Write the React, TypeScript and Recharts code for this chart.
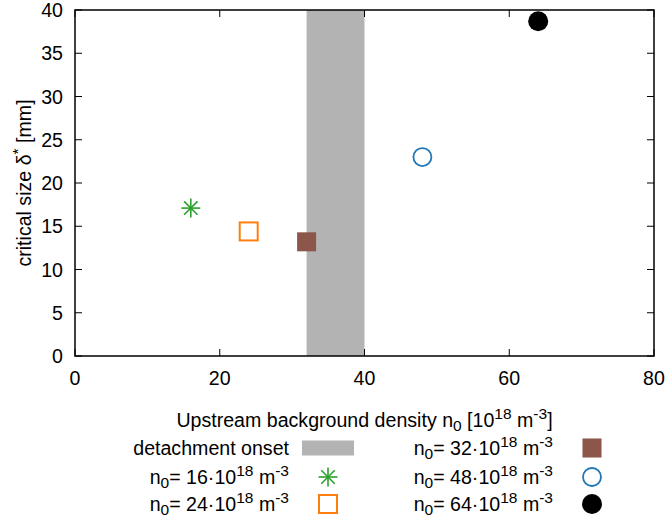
import React from "react"
import { ScatterChart, Scatter, XAxis, YAxis, ReferenceArea } from "recharts"

// values
const DENSITY = [16, 24, 32, 48, 64]
const CRITICAL_SIZE = [17.1, 14.4, 13.2, 23.0, 38.7]
const DENSITY_LABELS = ["16", "24", "32", "48", "64"]
const MARKER_COLORS = ["#2ca02c", "#ff7f0e", "#8c564b", "#1f77b4", "#000000"]
const MARKER_TYPES = ["asterisk", "openSquare", "filledSquare", "openCircle", "filledCircle"]
const ONSET_RANGE = [32, 40]
const X_TICKS = [0, 20, 40, 60, 80]
const Y_TICKS = [0, 5, 10, 15, 20, 25, 30, 35, 40]

const W = 665
const H = 522
const MARGIN = { top: 10, right: 11, bottom: 106, left: 0 }
const Y_AXIS_W = 75
const X_AXIS_H = 60
const PLOT_LEFT = MARGIN.left + Y_AXIS_W
const PLOT_TOP = MARGIN.top
const PLOT_RIGHT = W - MARGIN.right
const PLOT_BOTTOM = H - MARGIN.bottom - X_AXIS_H
const FONT = '"Liberation Sans", Arial, Helvetica, sans-serif'
const FS = 19.6
const SUB_FS = 15.5
const TICK_LEN = 7
const BAND_COLOR = "#b3b3b3"

function Marker({ type, color, cx, cy }: any) {
  if (type === "asterisk") {
    const r = 9.5
    const d = r * 0.7071
    return (
      <g stroke={color} strokeWidth={1.6}>
        <line x1={cx - r} y1={cy} x2={cx + r} y2={cy} />
        <line x1={cx} y1={cy - r} x2={cx} y2={cy + r} />
        <line x1={cx - d} y1={cy - d} x2={cx + d} y2={cy + d} />
        <line x1={cx - d} y1={cy + d} x2={cx + d} y2={cy - d} />
      </g>
    )
  }
  if (type === "openSquare") {
    return <rect x={cx - 9} y={cy - 9} width={18} height={18} fill="none" stroke={color} strokeWidth={2} />
  }
  if (type === "filledSquare") {
    return <rect x={cx - 9.5} y={cy - 9.5} width={19} height={19} fill={color} />
  }
  if (type === "openCircle") {
    return <circle cx={cx} cy={cy} r={9} fill="none" stroke={color} strokeWidth={1.8} />
  }
  return <circle cx={cx} cy={cy} r={10} fill={color} />
}

const XTick = ({ x, payload }: any) => (
  <g>
    <line x1={x} x2={x} y1={PLOT_BOTTOM} y2={PLOT_BOTTOM - TICK_LEN} stroke="#000" />
    <line x1={x} x2={x} y1={PLOT_TOP} y2={PLOT_TOP + TICK_LEN} stroke="#000" />
    <text x={x} y={PLOT_BOTTOM + 29} textAnchor="middle" fontSize={FS} fontFamily={FONT} fill="#000">
      {payload.value}
    </text>
  </g>
)

const YTick = ({ y, payload }: any) => (
  <g>
    <line x1={PLOT_LEFT} x2={PLOT_LEFT + TICK_LEN} y1={y} y2={y} stroke="#000" />
    <line x1={PLOT_RIGHT} x2={PLOT_RIGHT - TICK_LEN} y1={y} y2={y} stroke="#000" />
    <text x={PLOT_LEFT - 12} y={y + 7} textAnchor="end" fontSize={FS} fontFamily={FONT} fill="#000">
      {payload.value}
    </text>
  </g>
)

const XTitle = ({ viewBox }: any) => {
  const cx = viewBox.x + viewBox.width / 2
  return (
    <text x={cx} y={427} textAnchor="middle" fontSize={FS} fontFamily={FONT} fill="#000">
      Upstream background density n<tspan fontSize={SUB_FS} dy={4}>0</tspan>
      <tspan dy={-4}> [10</tspan>
      <tspan fontSize={SUB_FS} dy={-8}>18</tspan>
      <tspan dy={8}> m</tspan>
      <tspan fontSize={SUB_FS} dy={-8}>-3</tspan>
      <tspan dy={8}>]</tspan>
    </text>
  )
}

const YTitle = ({ viewBox }: any) => {
  const cy = viewBox.y + viewBox.height / 2
  const x = 31
  return (
    <text x={x} y={cy} transform={`rotate(-90, ${x}, ${cy})`} textAnchor="middle" fontSize={FS} fontFamily={FONT} fill="#000">
      critical size δ<tspan fontSize={SUB_FS} dy={-8}>*</tspan>
      <tspan dy={8}> [mm]</tspan>
    </text>
  )
}

const DensityText = ({ x, y, value }: any) => (
  <text x={x} y={y} textAnchor="end" fontSize={FS} fontFamily={FONT} fill="#000">
    n<tspan fontSize={SUB_FS} dy={4}>0</tspan>
    <tspan dy={-4}>= {value}·10</tspan>
    <tspan fontSize={SUB_FS} dy={-8}>18</tspan>
    <tspan dy={8}> m</tspan>
    <tspan fontSize={SUB_FS} dy={-8}>-3</tspan>
  </text>
)

// legend layout: two columns of three rows
const LEGEND_TEXT_X = [289, 553]
const LEGEND_SYMBOL_X = [328, 592]
const LEGEND_BASELINE = [455, 484, 511]

function LegendBlock() {
  const items = [-1, ...DENSITY.map((_, i) => i)]
  return (
    <g>
      {items.map((s, idx) => {
        const col = idx < 3 ? 0 : 1
        const row = idx % 3
        const ty = LEGEND_BASELINE[row]
        const sx = LEGEND_SYMBOL_X[col]
        const sy = ty - 7
        if (s < 0) {
          return (
            <g key="onset">
              <text x={LEGEND_TEXT_X[col]} y={ty} textAnchor="end" fontSize={FS} fontFamily={FONT} fill="#000">
                detachment onset
              </text>
              <rect x={sx - 26} y={sy - 7.5} width={52} height={15} fill={BAND_COLOR} />
            </g>
          )
        }
        return (
          <g key={`leg-${s}`}>
            <DensityText x={LEGEND_TEXT_X[col]} y={ty} value={DENSITY_LABELS[s]} />
            <Marker type={MARKER_TYPES[s]} color={MARKER_COLORS[s]} cx={sx} cy={sy} />
          </g>
        )
      })}
    </g>
  )
}

export default function App() {
  return (
    <div style={{ position: "absolute", left: 0, top: 0, background: "#fff" }}>
      <ScatterChart width={W} height={H} margin={MARGIN}>
        <XAxis
          type="number"
          dataKey="x"
          domain={[0, 80]}
          ticks={X_TICKS}
          interval={0}
          height={X_AXIS_H}
          axisLine={false}
          tickLine={false}
          tickSize={0}
          tickMargin={0}
          tick={<XTick />}
          label={{ content: XTitle }}
        />
        <YAxis
          type="number"
          dataKey="y"
          domain={[0, 40]}
          ticks={Y_TICKS}
          interval={0}
          width={Y_AXIS_W}
          axisLine={false}
          tickLine={false}
          tickSize={0}
          tickMargin={0}
          tick={<YTick />}
          label={{ content: YTitle }}
        />
        <ReferenceArea
          x1={ONSET_RANGE[0]}
          x2={ONSET_RANGE[1]}
          y1={0}
          y2={40}
          fill={BAND_COLOR}
          fillOpacity={1}
          stroke="none"
        />
        <ReferenceArea x1={0} x2={80} y1={0} y2={40} fill="none" stroke="#000" strokeWidth={1.5} />
        {DENSITY.map((d, i) => (
          <Scatter
            key={`s-${i}`}
            name={`n0=${DENSITY_LABELS[i]}`}
            data={[{ x: d, y: CRITICAL_SIZE[i] }]}
            isAnimationActive={false}
            shape={(p: any) => <Marker type={MARKER_TYPES[i]} color={MARKER_COLORS[i]} cx={p.cx} cy={p.cy} />}
          />
        ))}
        <LegendBlock />
      </ScatterChart>
    </div>
  )
}
